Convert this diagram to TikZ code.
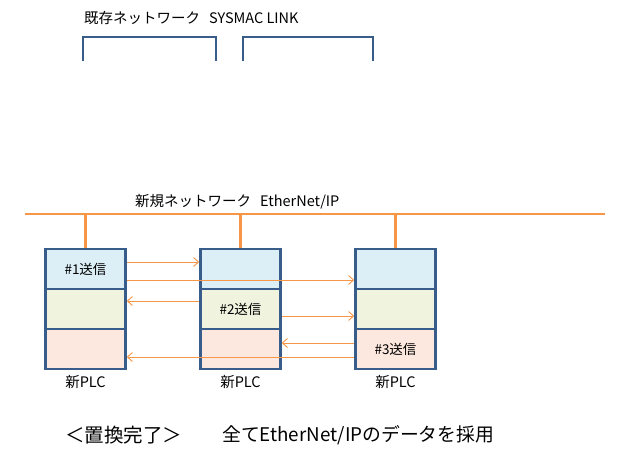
\documentclass[tikz,border=0pt]{standalone}
\usepackage{fontspec}
\setmainfont{Noto Sans CJK JP}
\usetikzlibrary{arrows.meta}
\definecolor{netorange}{RGB}{247,150,70}
\definecolor{plcborder}{RGB}{56,93,138}
\definecolor{rowblue}{RGB}{220,239,246}
\definecolor{rowgreen}{RGB}{240,243,222}
\definecolor{rowpink}{RGB}{252,232,222}
\tikzset{
  row/.style={draw=plcborder, line width=2.6pt, minimum width=80pt, minimum height=40pt, inner sep=0pt},
  bus/.style={draw=netorange, line width=2.6pt},
  drop/.style={draw=netorange, line width=2.3pt},
  flow/.style={draw=netorange, line width=0.9pt, -{Straight Barb[length=5pt,width=9pt,line width=0.9pt]}},
  bracket/.style={draw=plcborder, line width=2.4pt},
  lbl/.style={inner sep=0pt, anchor=west},
  rowtext/.style={inner sep=0pt, font=\fontsize{13.5}{15}\selectfont},
}
\begin{document}
\begin{tikzpicture}[x=1pt,y=-1pt]
\useasboundingbox (0,0) rectangle (624,462);
% top existing network
\node[lbl, font=\fontsize{14.5}{16}\selectfont] (oldnet) at (84,18) {既存ネットワーク\hspace{9pt}SYSMAC LINK};
\draw[bracket] (83,61) -- (83,37) -- (216,37) -- (216,61);
\draw[bracket] (243,61) -- (243,37) -- (373,37) -- (373,61);
% new network
\node[lbl, font=\fontsize{14.5}{16}\selectfont] (newnet) at (135,202) {新規ネットワーク\hspace{9pt}EtherNet/IP};
\coordinate (busL) at (25,214);
\coordinate (busR) at (605,214);
\draw[bus] (busL) -- (busR);
% PLCs
\foreach \i/\x in {1/85.5,2/240.5,3/395.5}{
  \node[row, fill=rowblue] (p\i a) at (\x,269) {};
  \node[row, fill=rowgreen] (p\i b) at (\x,309) {};
  \node[row, fill=rowpink] (p\i c) at (\x,349) {};
  \node[inner sep=0pt, font=\fontsize{14.5}{16}\selectfont] (plc\i) at (\x,382) {新PLC};
  \draw[drop] (p\i a.north |- busL) -- (p\i a.north);
}
\node[rowtext] (t1) at (p1a) {\#1送信};
\node[rowtext] (t2) at (p2b) {\#2送信};
\node[rowtext] (t3) at (p3c) {\#3送信};
% flows
\draw[flow] ([yshift=7pt]p1a.east) -- ([yshift=7pt]p2a.west);
\draw[flow] ([yshift=-11pt]p1a.east) -- ([yshift=-11pt]p3a.west);
\draw[flow] ([yshift=8pt]p2b.west) -- ([yshift=8pt]p1b.east);
\draw[flow] ([yshift=-7pt]p2b.east) -- ([yshift=-7pt]p3b.west);
\draw[flow] ([yshift=6pt]p3c.west) -- ([yshift=6pt]p2c.east);
\draw[flow] ([yshift=-8pt]p3c.west) -- ([yshift=-8pt]p1c.east);
% bottom text
\node[lbl, font=\fontsize{19.5}{22}\selectfont] (done) at (65,435) {＜置換完了＞};
\node[lbl, font=\fontsize{18.8}{22}\selectfont] (note) at (222,435) {全てEtherNet/IPのデータを採用};
\end{tikzpicture}
\end{document}
